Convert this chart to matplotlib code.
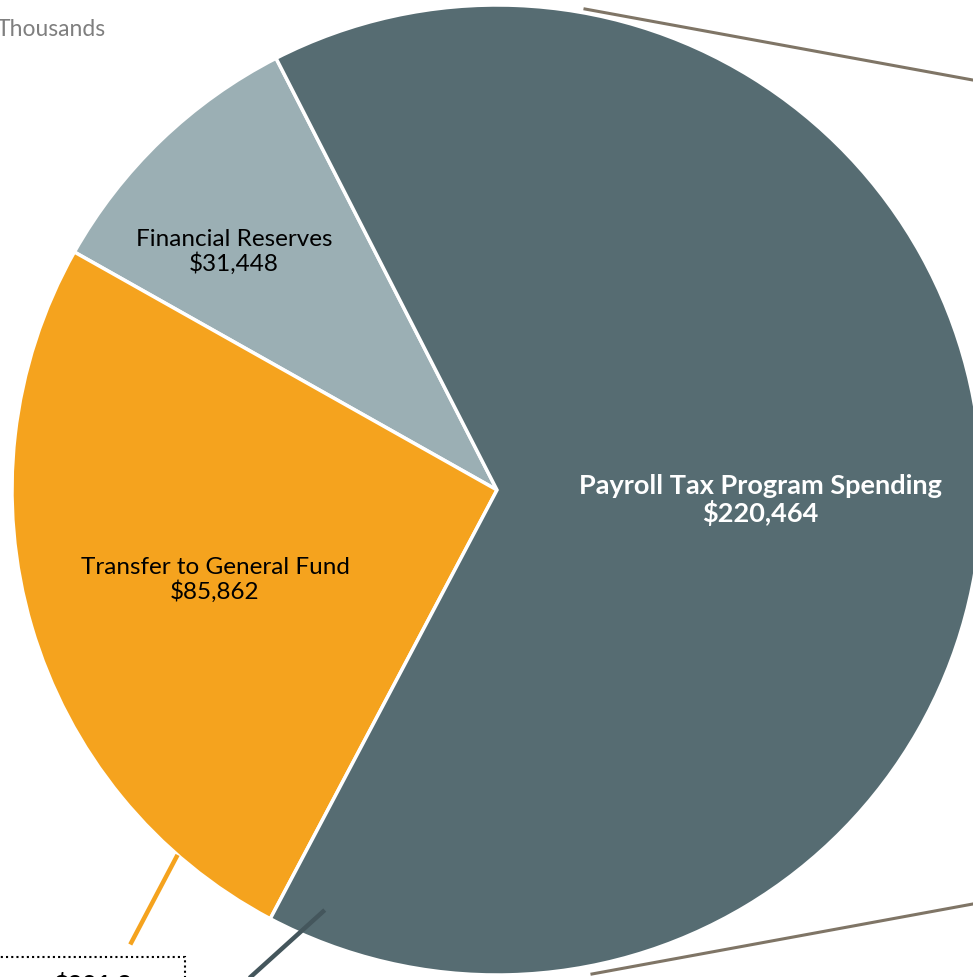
import matplotlib.pyplot as plt
import numpy as np
from matplotlib.patches import Rectangle

labels = ["Financial Reserves", "Transfer to General Fund", "Payroll Tax Program Spending"]
values = [31448, 85862, 220464]
colors = ["#9bafb4", "#f5a31e", "#566c72"]
text_colors = ["black", "black", "white"]
weights = ["normal", "normal", "bold"]
small_label = "$201.3"

plt.rcParams["font.family"] = ["Lato", "DejaVu Sans"]

fig = plt.figure(figsize=(9.73, 9.77), dpi=100)
ax = fig.add_axes([0, 0, 1, 1])

cx, cy, r = 497, 487, 485
wedges, _ = ax.pie(values, colors=colors, startangle=117.1, counterclock=True,
                   center=(cx, cy), radius=r, frame=True,
                   wedgeprops=dict(edgecolor="white", linewidth=2.5))
ax.set_xlim(0, 973)
ax.set_ylim(0, 977)
ax.set_aspect("equal")
ax.axis("off")

def pt(ang, rad):
    a = np.deg2rad(ang)
    return cx + rad * np.cos(a), cy + rad * np.sin(a)

label_pos = [(234, 725), (215, 397), (760, 477)]
for lab, v, (x, y), tc, w in zip(labels, values, label_pos, text_colors, weights):
    ax.text(x, y, f"{lab}\n${v:,}", ha="center", va="center", color=tc,
            fontsize=19.5 if w == "bold" else 17.5, fontweight=w, linespacing=1.1)

# leader lines
x0, y0 = pt(228.8, 485)
x1, y1 = pt(231.1, 584)
ax.plot([x0, x1], [y0, y1], color="#f5a31e", lw=3.2, solid_capstyle="butt")
x0, y0 = pt(247.7, 454)
x1, y1 = pt(242.6, 560)
ax.plot([x0, x1], [y0, y1], color="#44565c", lw=3.2, solid_capstyle="butt")

# connector lines to the (cropped) detail chart
ax.plot([585, 1000], [968, 892], color="#7f7566", lw=2.2)
ax.plot([592, 1000], [3, 78], color="#7f7566", lw=2.2)

# small value box (cut off at the bottom)
ax.add_patch(Rectangle((-5, -40), 190, 60, fill=False, ec="black", lw=1.5, ls=(0, (1, 1.5))))
ax.text(92, -8, small_label, ha="center", va="center", fontsize=18, fontweight="bold")

ax.text(-3, 948, "Thousands", ha="left", va="center", color="#7f7f7f", fontsize=16.5)

fig.savefig("out.png", dpi=100)
